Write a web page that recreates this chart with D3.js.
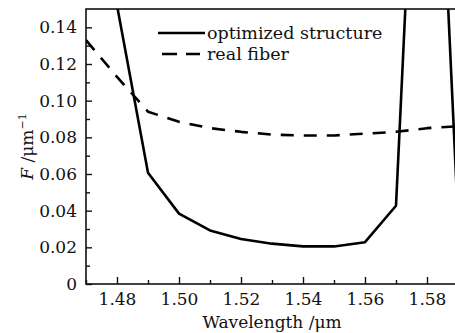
<!DOCTYPE html>
<html lang="en">
<head>
  <meta charset="UTF-8">
  <title>Optimized structure vs real fiber</title>
  <style>
    body { margin: 0; padding: 0; background: #fff; overflow: hidden; }
    svg { display: block; }
    text { font-family: 'DejaVu Serif', 'Liberation Serif', serif; fill: #111; }
    .tick text { font-size: 17px; }
    .domain { display: none; }
    .tick line { stroke: #111; stroke-width: 1.4px; }
    .series { fill: none; stroke: #000; stroke-width: 2.6px; stroke-linejoin: round; }
  </style>
</head>
<body>
  <div id="chart"></div>

  <script src="https://d3js.org/d3.v7.min.js"></script>
  <script>
    // Daten
    const wavelength = [1.47, 1.48, 1.49, 1.50, 1.51, 1.52, 1.53, 1.54, 1.55, 1.56, 1.57, 1.58, 1.59];
    const optimized  = [null, 0.152, 0.0607, 0.0384, 0.0292, 0.0245, 0.0220, 0.0205, 0.0205, 0.0228, 0.0427, 0.40, 0.035];
    const realFiber  = [0.133, 0.113, 0.094, 0.0885, 0.085, 0.083, 0.0815, 0.081, 0.081, 0.082, 0.083, 0.085, 0.086];
    const xTicks = [1.48, 1.50, 1.52, 1.54, 1.56, 1.58];
    const yTicks = [0, 0.02, 0.04, 0.06, 0.08, 0.10, 0.12, 0.14];

    const W = 455, H = 333;
    const margin = { top: 9, left: 86, bottom: 49 };
    const plotW = 372;
    const plotH = H - margin.top - margin.bottom;

    const svg = d3.select('#chart').append('svg')
      .attr('width', W)
      .attr('height', H);

    const x = d3.scaleLinear().domain([1.47, 1.59]).range([margin.left, margin.left + plotW]);
    const y = d3.scaleLinear().domain([0, 0.15]).range([margin.top + plotH, margin.top]);

    svg.append('clipPath').attr('id', 'clip')
      .append('rect')
      .attr('x', x(1.47)).attr('y', y(0.15))
      .attr('width', plotW).attr('height', plotH);

    // Achsen (Ticks nach innen)
    const fmtY = d => d === 0 ? '0' : d3.format('.2f')(d);
    svg.append('g')
      .attr('transform', `translate(0,${y(0)})`)
      .call(d3.axisBottom(x).tickValues(xTicks).tickFormat(d3.format('.2f')).tickSizeInner(-7).tickPadding(9));
    svg.append('g')
      .attr('transform', `translate(0,${y(0)})`)
      .call(d3.axisBottom(x).tickValues(d3.range(1.47, 1.595, 0.02).map(v => +v.toFixed(2))).tickFormat('').tickSizeInner(-4));
    svg.append('g')
      .attr('transform', `translate(${x(1.47)},0)`)
      .call(d3.axisLeft(y).tickValues(yTicks).tickFormat(fmtY).tickSizeInner(-6).tickPadding(9));
    svg.append('g')
      .attr('transform', `translate(${x(1.47)},0)`)
      .call(d3.axisLeft(y).tickValues(d3.range(0.01, 0.15, 0.02)).tickFormat('').tickSizeInner(-4));

    // Rahmen
    svg.append('rect')
      .attr('x', x(1.47)).attr('y', y(0.15))
      .attr('width', plotW).attr('height', plotH)
      .attr('fill', 'none').attr('stroke', '#111').attr('stroke-width', 1.6);

    // Kurven
    const line = (vals) => d3.line()
      .defined((d, i) => vals[i] !== null)
      .x((d, i) => x(wavelength[i]))
      .y((d, i) => y(vals[i]))(wavelength);

    const plot = svg.append('g').attr('clip-path', 'url(#clip)');
    plot.append('path').attr('class', 'series')
      .attr('d', line(realFiber))
      .attr('stroke-dasharray', '13,10');
    plot.append('path').attr('class', 'series')
      .attr('d', line(optimized));

    // Legende
    const legend = [
      { label: 'optimized structure', dash: null, ly: 33 },
      { label: 'real fiber', dash: '15,9', ly: 54 }
    ];
    legend.forEach(l => {
      svg.append('line')
        .attr('x1', l.dash ? 162 : 158).attr('x2', l.dash ? 200 : 205)
        .attr('y1', l.ly).attr('y2', l.ly)
        .attr('stroke', '#000').attr('stroke-width', 2.6)
        .attr('stroke-dasharray', l.dash);
      svg.append('text')
        .attr('x', 207).attr('y', l.ly + 6)
        .attr('font-size', 17.5)
        .text(l.label);
    });

    // Achsentitel
    svg.append('text')
      .attr('x', x(1.53)).attr('y', 328)
      .attr('text-anchor', 'middle')
      .attr('font-size', 17)
      .text('Wavelength /μm');

    const yl = svg.append('text')
      .attr('transform', `translate(33,${y(0.075)}) rotate(-90)`)
      .attr('text-anchor', 'middle')
      .attr('font-size', 17);
    yl.append('tspan').attr('font-style', 'italic').text('F');
    yl.append('tspan').text(' /μm');
    yl.append('tspan').attr('font-size', 11).attr('dy', -7).text('−1');
  </script>
</body>
</html>
